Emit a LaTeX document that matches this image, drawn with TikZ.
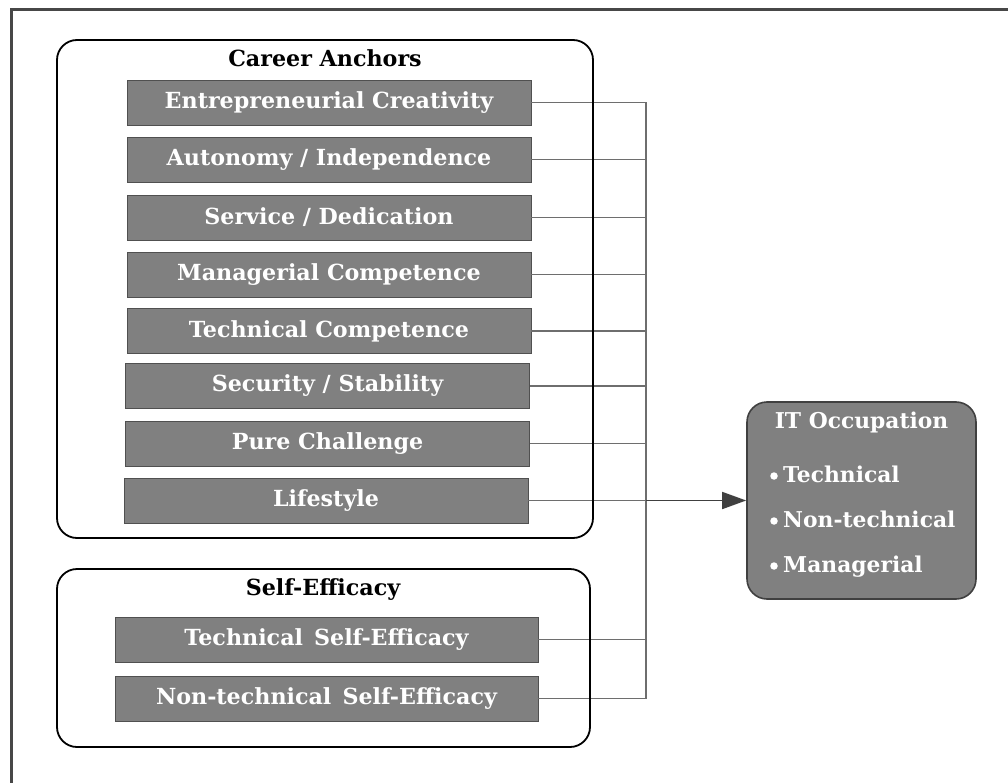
\documentclass[tikz,border=0pt]{standalone}
\usepackage{fontspec}
\setmainfont{DejaVu Serif}
\usetikzlibrary{arrows.meta}
\definecolor{boxgray}{HTML}{808080}
\definecolor{boxedge}{HTML}{505050}
\definecolor{framegray}{HTML}{474747}
\definecolor{linegray}{HTML}{6E6E6E}
\definecolor{arrowgray}{HTML}{404040}
\tikzset{
  frame/.style={draw=framegray, line width=3pt},
  group/.style={draw=black, line width=1.8pt, rounded corners=20pt},
  factor/.style={rectangle, fill=boxgray, draw=boxedge, line width=0.9pt,
    minimum width=404pt, minimum height=45pt, inner sep=0pt,
    text=white, font=\bfseries\fontsize{22.2}{25}\selectfont},
  grouptitle/.style={font=\bfseries\fontsize{22.2}{25}\selectfont, text=black, inner sep=0pt},
  conn/.style={draw=linegray, line width=1.1pt},
  flow/.style={draw=arrowgray, line width=1.6pt, -{Triangle[length=24pt, width=17pt]}},
  outcome/.style={rectangle, rounded corners=20pt, fill=boxgray, draw=arrowgray, line width=1.6pt,
    minimum width=229pt, minimum height=197pt, inner sep=0pt},
  outtext/.style={text=white, font=\bfseries\fontsize{21.8}{25}\selectfont, inner sep=0pt},
  dot/.style={circle, fill=white, inner sep=0pt, minimum size=7.5pt}
}
\begin{document}
\begin{tikzpicture}[x=1pt, y=-1pt]
\useasboundingbox (0,0) rectangle (1008,783);
\clip (0,0) rectangle (1008,783);

% outer frame (only its top and left sides fall inside the page)
\draw[frame] (11,10) rectangle (1040,820);

% x position of the collecting line
\coordinate (bus) at (646,102);

% career anchor factors
\node[factor] (e1) at (329,102.5) {Entrepreneurial Creativity};
\node[factor] (e2) at (329,159.5) {Autonomy / Independence};
\node[factor] (e3) at (329,217.5) {Service / Dedication};
\node[factor] (e4) at (329,274.5) {Managerial Competence};
\node[factor] (e5) at (329,331) {Technical Competence};
\node[factor] (e6) at (327.5,386) {Security / Stability};
\node[factor] (e7) at (327.5,443.5) {Pure Challenge};
\node[factor] (e8) at (326,500.5) {Lifestyle};

% self-efficacy factors
\node[factor, minimum width=423pt] (s1) at (326.5,639.5) {Technical\enspace Self-Efficacy};
\node[factor, minimum width=423pt] (s2) at (326.5,698.5) {Non-technical\enspace Self-Efficacy};

% outcome
\node[outcome] (it) at (861.5,500.5) {};
\node[outtext] (itt) at (861.5,422) {IT Occupation};
\node[dot] (d1) at (774,476) {};
\node[dot] (d2) at (774,521) {};
\node[dot] (d3) at (774,566) {};
\node[outtext, anchor=base west] (o1) at (783,482) {Technical};
\node[outtext, anchor=base west] (o2) at (783,527) {Non-technical};
\node[outtext, anchor=base west] (o3) at (783,572) {Managerial};

% connectors into the collecting line
\foreach \n in {e1,e2,e3,e4,e5,e6,e7,e8,s1,s2}
  \draw[conn] (\n.east) -- (\n.east -| bus);
\draw[conn] (bus |- e1.east) -- (bus |- s2.east);
\draw[flow] (bus |- e8.east) -- (it.west |- e8.east);

% group outlines
\draw[group] (57,40) rectangle (593,538);
\node[grouptitle] (cat) at (325,58) {Career Anchors};
\draw[group] (57,569) rectangle (590,747);
\node[grouptitle] (set) at (323,590) {Self-Efficacy};
\end{tikzpicture}
\end{document}
